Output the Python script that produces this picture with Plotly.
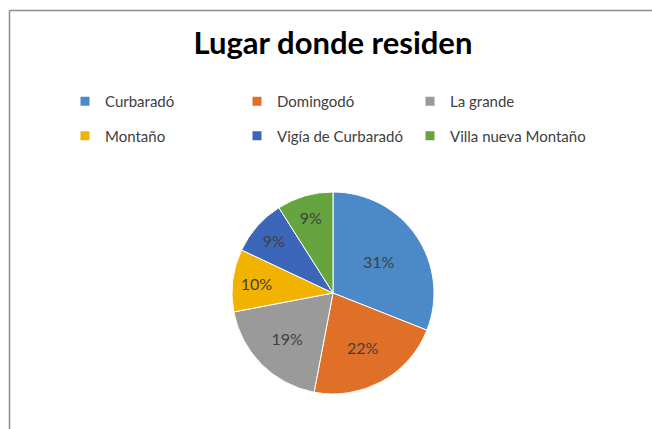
import plotly.graph_objects as go

labels = ["Curbaradó", "Domingodó", "La grande", "Montaño", "Vigía de Curbaradó", "Villa nueva Montaño"]
values = [31, 22, 19, 10, 9, 9]
colors = ["#4b89c8", "#e06f28", "#9a9a9a", "#f2b200", "#3c66b8", "#66a43f"]

W, H = 652, 429
FONT = "Lato"

fig = go.Figure()

cx, cy, r = 333, 293, 101
fig.add_trace(go.Pie(
    labels=labels, values=values, sort=False, direction="clockwise", rotation=0,
    marker=dict(colors=colors, line=dict(color="white", width=1)),
    texttemplate="%{percent:.0%}", textposition="inside", insidetextorientation="horizontal",
    textfont=dict(family=FONT, size=16, color="#404040"),
    showlegend=False, hoverinfo="label+percent",
    domain=dict(x=[(cx - r) / W, (cx + r) / W], y=[(H - cy - r) / H, (H - cy + r) / H]),
))

legend_ids = ["legend", "legend2", "legend3"]
for i, (lab, col) in enumerate(zip(labels, colors)):
    fig.add_trace(go.Scatter(
        x=[None], y=[None], mode="markers", name=lab,
        marker=dict(symbol="square", size=9, color=col),
        legend=legend_ids[i % 3], legendgroup=f"g{i}",
    ))

leg_common = dict(orientation="v", xanchor="left", yanchor="top",
                  font=dict(family=FONT, size=15, color="#404040"),
                  tracegroupgap=12, bgcolor="rgba(0,0,0,0)",
                  itemclick=False, itemdoubleclick=False)

col_x = [65, 237, 410]
fig.update_layout(
    width=W, height=H,
    margin=dict(l=0, r=0, t=0, b=0),
    paper_bgcolor="white", plot_bgcolor="white",
    title=dict(text="<b>Lugar donde residen</b>", x=333 / W, xanchor="center",
               y=1 - 43 / H, yanchor="middle",
               font=dict(family=FONT, size=31, color="black")),
    xaxis=dict(visible=False), yaxis=dict(visible=False),
    legend=dict(x=col_x[0] / W, y=1 - 85 / H, **leg_common),
    legend2=dict(x=col_x[1] / W, y=1 - 85 / H, **leg_common),
    legend3=dict(x=col_x[2] / W, y=1 - 85 / H, **leg_common),
    shapes=[
        dict(type="line", xref="paper", yref="paper", x0=9.5 / W, x1=1, y0=1 - 10.5 / H, y1=1 - 10.5 / H,
             line=dict(color="#8c8c8c", width=1.5)),
        dict(type="line", xref="paper", yref="paper", x0=9.5 / W, x1=9.5 / W, y0=0, y1=1 - 10.5 / H,
             line=dict(color="#8c8c8c", width=1.5)),
    ],
)

fig.write_html("out.html", config={"displayModeBar": False},
               post_script="document.body.style.margin='0';document.body.style.overflow='hidden';")
